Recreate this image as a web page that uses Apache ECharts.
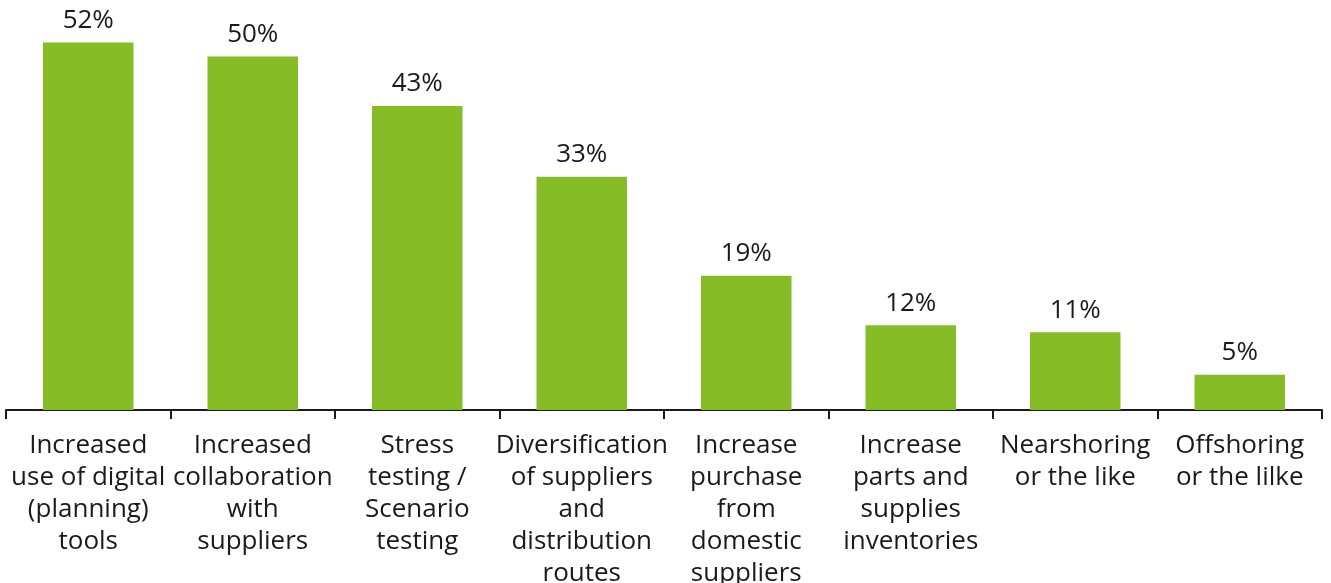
<!DOCTYPE html>
<html>
<head>
<meta charset="utf-8">
<script src="https://cdn.jsdelivr.net/npm/echarts@6/dist/echarts.min.js"></script>
<style>
  html, body { margin: 0; padding: 0; background: #ffffff; overflow: hidden; }
  #chart { width: 1331px; height: 583px; }
</style>
</head>
<body>
<div id="chart"></div>
<script>
// Supply chain measures taken (share of respondents, %)
const categories = [
  'Increased\nuse of digital\n(planning)\ntools',
  'Increased\ncollaboration\nwith\nsuppliers',
  'Stress\ntesting /\nScenario\ntesting',
  'Diversification\nof suppliers\nand\ndistribution\nroutes',
  'Increase\npurchase\nfrom\ndomestic\nsuppliers',
  'Increase\nparts and\nsupplies\ninventories',
  'Nearshoring\nor the like',
  'Offshoring\nor the lilke'
];
const values = [52, 50, 43, 33, 19, 12, 11, 5];

const textColor = '#1a1a1a';
const fontFamily = '"Open Sans", "Noto Sans", sans-serif';

const chart = echarts.init(document.getElementById('chart'), null, { renderer: 'canvas' });
chart.setOption({
  animation: false,
  grid: {
    left: 6, right: 9, top: 0, bottom: 173,
    containLabel: false,
    outerBoundsMode: 'none'
  },
  xAxis: {
    type: 'category',
    data: categories,
    axisLine: { show: true, lineStyle: { color: '#1a1a1a', width: 2 } },
    axisTick: { show: true, length: 9, lineStyle: { color: '#1a1a1a', width: 2 } },
    axisLabel: {
      interval: 0,
      hideOverlap: false,
      margin: 20,
      color: textColor,
      fontFamily: fontFamily,
      fontSize: 26,
      lineHeight: 32,
      align: 'center'
    }
  },
  yAxis: {
    type: 'value',
    min: 0,
    max: 58,
    show: false,
    splitLine: { show: false }
  },
  series: [{
    type: 'bar',
    data: values,
    barWidth: '55%',
    itemStyle: { color: '#86bc25' },
    label: {
      show: true,
      position: 'top',
      distance: 9,
      formatter: p => p.value + '%',
      color: textColor,
      fontFamily: fontFamily,
      fontSize: 26
    }
  }]
});
</script>
</body>
</html>
